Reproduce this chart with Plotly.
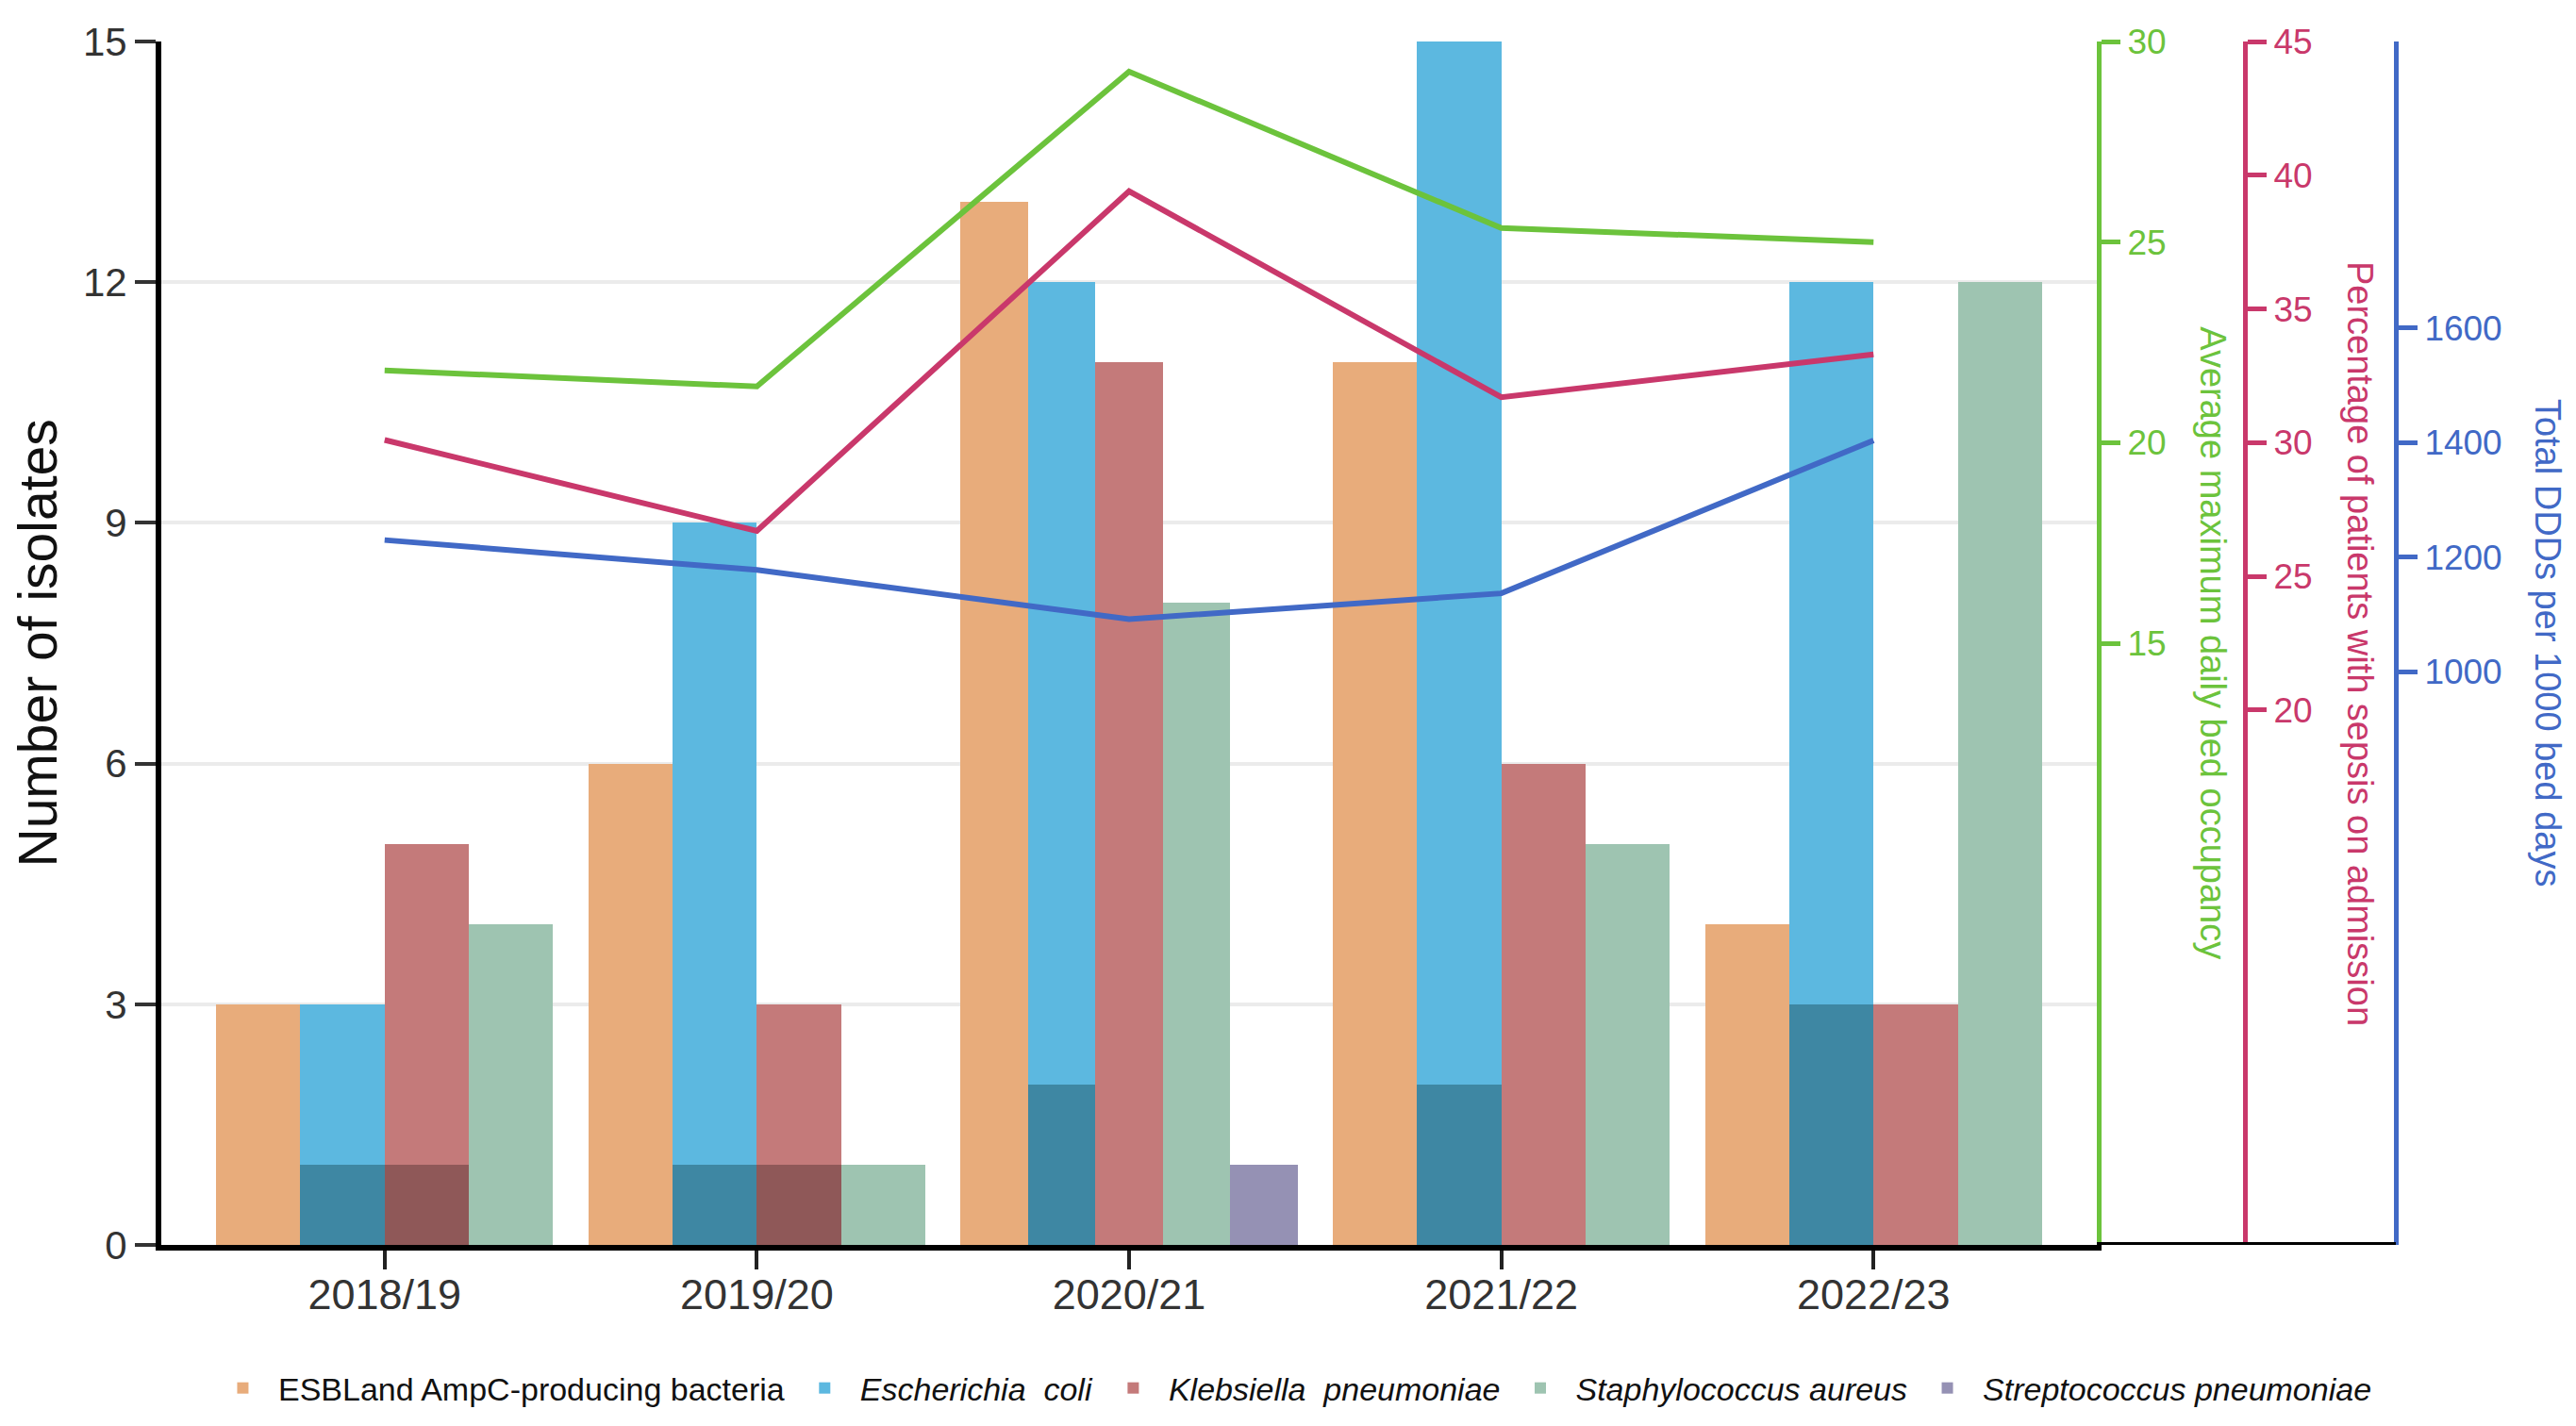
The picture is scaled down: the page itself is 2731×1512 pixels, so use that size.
import plotly.graph_objects as go

# ---------------- data ----------------
years = ["2018/19", "2019/20", "2020/21", "2021/22", "2022/23"]

species_names = [
    "ESBLand AmpC-producing bacteria",
    "<i>Escherichia  coli</i>",
    "<i>Klebsiella  pneumoniae</i>",
    "<i>Staphylococcus aureus</i>",
    "<i>Streptococcus pneumoniae</i>",
]

# total isolates per species
esbl_total = [3, 6, 13, 11, 4]
ecoli_total = [3, 9, 12, 15, 12]
kleb_total = [5, 3, 11, 6, 3]
staph_total = [4, 1, 8, 5, 12]
strep_total = [0, 0, 1, 0, 0]

# darker sub-portion of each bar
esbl_sub = [0, 0, 0, 0, 0]
ecoli_sub = [1, 1, 2, 2, 3]
kleb_sub = [1, 1, 0, 0, 0]
staph_sub = [0, 0, 0, 0, 0]
strep_sub = [0, 0, 0, 0, 0]

bed_occupancy = [21.8, 21.4, 29.25, 25.35, 25.0]
sepsis_pct = [30.1, 26.7, 39.4, 31.7, 33.3]
ddd_per_1000 = [1230, 1178, 1092, 1137, 1404]

left_ticks = [0, 3, 6, 9, 12, 15]
occ_ticks = [15, 20, 25, 30]
sepsis_ticks = [20, 25, 30, 35, 40, 45]
ddd_ticks = [1000, 1200, 1400, 1600]

# ---------------- styles ----------------
light_colors = ["#e8ac7b", "#5cb8e0", "#c47a7a", "#9ec4b1", "#9591b4"]
dark_colors = ["#a97b56", "#3e87a3", "#8f5858", "#6e8b7c", "#6b6586"]
GREEN = "#6cc33c"
RED = "#c9386b"
BLUE = "#4169c6"

SANS = "Liberation Sans, Arial, sans-serif"

totals = [esbl_total, ecoli_total, kleb_total, staph_total, strep_total]
subs = [esbl_sub, ecoli_sub, kleb_sub, staph_sub, strep_sub]

GROUP = 0.905  # fraction of category occupied by bars

# per-category bar layout: only non-zero series get a slot
n_cat = len(years)
offsets = [[0] * n_cat for _ in totals]
widths = [[0.01] * n_cat for _ in totals]
for j in range(n_cat):
    present = [i for i, t in enumerate(totals) if t[j] > 0]
    w = GROUP / len(present)
    for rank, i in enumerate(present):
        offsets[i][j] = -GROUP / 2 + rank * w
        widths[i][j] = w

fig = go.Figure()

for i, name in enumerate(species_names):
    yvals = [v if v > 0 else None for v in totals[i]]
    fig.add_trace(go.Bar(
        x=years, y=yvals, name=name,
        offset=offsets[i], width=widths[i],
        marker=dict(color=light_colors[i], line=dict(width=0)),
        legendgroup=str(i), showlegend=True,
    ))
    if any(v > 0 for v in subs[i]):
        svals = [v if v > 0 else None for v in subs[i]]
        fig.add_trace(go.Bar(
            x=years, y=svals, name=name,
            offset=offsets[i], width=widths[i],
            marker=dict(color=dark_colors[i], line=dict(width=0)),
            legendgroup=str(i), showlegend=False,
        ))

fig.add_trace(go.Scatter(x=years, y=bed_occupancy, yaxis="y2", mode="lines",
                         line=dict(color=GREEN, width=6), showlegend=False,
                         name="Average maximum daily bed occupancy"))
fig.add_trace(go.Scatter(x=years, y=sepsis_pct, yaxis="y3", mode="lines",
                         line=dict(color=RED, width=6), showlegend=False,
                         name="Percentage of patients with sepsis on admission"))
fig.add_trace(go.Scatter(x=years, y=ddd_per_1000, yaxis="y4", mode="lines",
                         line=dict(color=BLUE, width=6), showlegend=False,
                         name="Total DDDs per 1000 bed days"))

X_END = 0.8662
RED_POS = 0.9325

def right_axis(color, rng, ticks, **kw):
    d = dict(
        overlaying="y", side="right", range=rng, tickvals=ticks,
        showline=True, linecolor=color, linewidth=5,
        ticks="outside", ticklen=20, tickwidth=5, tickcolor=color,
        tickfont=dict(family=SANS, size=37, color=color),
        showgrid=False, zeroline=False, automargin=False,
    )
    d.update(kw)
    return d

fig.update_layout(
    width=2731, height=1512,
    margin=dict(l=163, r=199, t=36, b=200, autoexpand=False),
    paper_bgcolor="white", plot_bgcolor="white",
    barmode="overlay", bargap=0,
    xaxis=dict(
        domain=[0, X_END], type="category", range=[-0.6, 4.6],
        showline=True, linecolor="black", linewidth=6,
        ticks="outside", ticklen=20, tickwidth=4, tickcolor="#222222",
        tickfont=dict(family=SANS, size=45, color="#333333"),
        ticklabelstandoff=-12,
        showgrid=False, zeroline=False, automargin=False,
    ),
    yaxis=dict(
        range=[0, 15], tickvals=left_ticks,
        showgrid=True, gridcolor="#ebebeb", gridwidth=4,
        showline=True, linecolor="black", linewidth=6,
        ticks="outside", ticklen=22, tickwidth=4, tickcolor="#333333",
        tickfont=dict(family=SANS, size=42, color="#333333"),
        zeroline=False, automargin=False,
    ),
    yaxis2=right_axis(GREEN, [0, 30], occ_ticks, anchor="x"),
    yaxis3=right_axis(RED, [0, 45], sepsis_ticks, anchor="free", position=RED_POS),
    yaxis4=right_axis(BLUE, [0, 2100], ddd_ticks, anchor="free", position=1.0),
    legend=dict(
        orientation="h", xref="container", yref="container",
        x=0.4987, xanchor="center", y=0.0317, yanchor="middle",
        font=dict(family=SANS, size=34, color="#111111"),
        itemwidth=65, traceorder="normal",
    ),
    annotations=[
        dict(text="Number of isolates", xref="paper", yref="paper", x=-0.0555, y=0.5,
             textangle=-90, showarrow=False, xanchor="center", yanchor="middle",
             font=dict(family=SANS, size=57, color="#111111")),
        dict(text="Average maximum daily bed occupancy", xref="paper", yref="paper",
             x=0.918, y=0.5, textangle=90, showarrow=False, xanchor="center", yanchor="middle",
             font=dict(family=SANS, size=38, color=GREEN)),
        dict(text="Percentage of patients with sepsis on admission", xref="paper", yref="paper",
             x=0.984, y=0.5, textangle=90, showarrow=False, xanchor="center", yanchor="middle",
             font=dict(family=SANS, size=38, color=RED)),
        dict(text="Total DDDs per 1000 bed days", xref="paper", yref="paper",
             x=1.068, y=0.5, textangle=90, showarrow=False, xanchor="center", yanchor="middle",
             font=dict(family=SANS, size=38, color=BLUE)),
    ],
    shapes=[
        dict(type="line", xref="paper", yref="y", x0=X_END, x1=1.0, y0=0, y1=0,
             line=dict(color="black", width=6), layer="above"),
    ],
)

fig.write_html("out.html")
